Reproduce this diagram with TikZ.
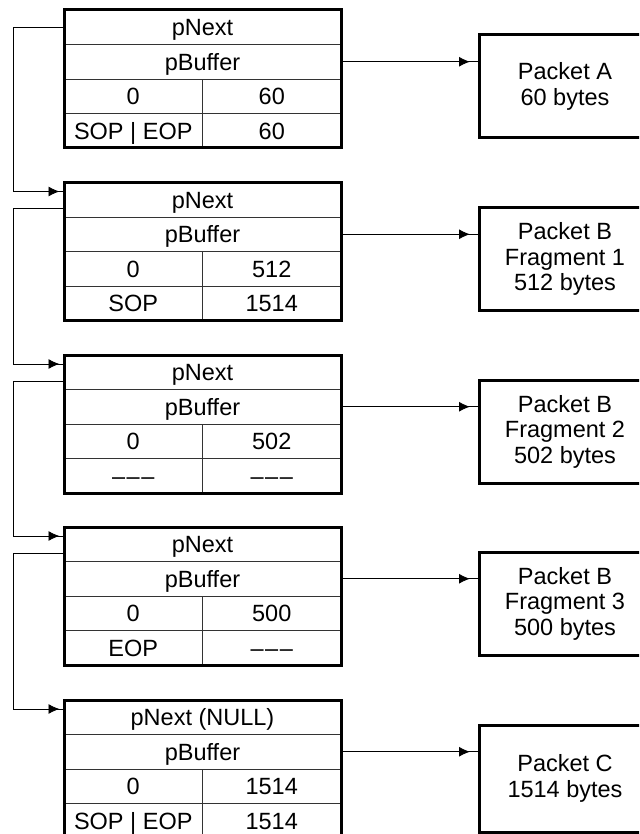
\documentclass[tikz,border=0pt]{standalone}
\usepackage{fontspec}
\setmainfont{Liberation Sans}
\usetikzlibrary{positioning,arrows.meta,decorations.markings}

\begin{document}
\begin{tikzpicture}[x=1pt,y=-1pt,
  font=\fontsize{23.5pt}{25.5pt}\selectfont,
  row/.style={draw=black!80,line width=0.9pt,minimum width=277pt,minimum height=34.5pt,
    inner sep=0pt,outer sep=0pt,text height=17pt,text depth=0pt},
  cell/.style={row,minimum width=138.5pt},
  frame/.style={line width=3pt},
  packet/.style={draw,line width=3pt,minimum width=171pt,minimum height=103pt,
    align=center,inner sep=0pt,outer sep=0pt,anchor=north west},
  ptr/.style={line width=0.9pt,decoration={markings,
    mark=at position -#1 with {\arrow{Latex[length=11pt,width=10pt]}}},postaction={decorate}}]
  \clip (0,0) rectangle (639,834);

  % descriptor 1
  \node[row,anchor=north west] (d1next) at (64,10) {pNext};
  \node[row,below=0pt of d1next] (d1buf) {pBuffer};
  \node[cell,below right=0pt of d1buf.south west] (d1a) {0};
  \node[cell,right=0pt of d1a] (d1b) {60};
  \node[cell,below=0pt of d1a] (d1c) {SOP | EOP};
  \node[cell,right=0pt of d1c] (d1d) {60};
  \draw[frame] (d1next.north west) rectangle (d1d.south east);

  % descriptor 2
  \node[row,anchor=north west] (d2next) at (64,182.5) {pNext};
  \node[row,below=0pt of d2next] (d2buf) {pBuffer};
  \node[cell,below right=0pt of d2buf.south west] (d2a) {0};
  \node[cell,right=0pt of d2a] (d2b) {512};
  \node[cell,below=0pt of d2a] (d2c) {SOP};
  \node[cell,right=0pt of d2c] (d2d) {1514};
  \draw[frame] (d2next.north west) rectangle (d2d.south east);

  % descriptor 3
  \node[row,anchor=north west] (d3next) at (64,355) {pNext};
  \node[row,below=0pt of d3next] (d3buf) {pBuffer};
  \node[cell,below right=0pt of d3buf.south west] (d3a) {0};
  \node[cell,right=0pt of d3a] (d3b) {502};
  \node[cell,below=0pt of d3a] (d3c) {\textendash\kern1.5pt\textendash\kern1.5pt\textendash};
  \node[cell,right=0pt of d3c] (d3d) {\textendash\kern1.5pt\textendash\kern1.5pt\textendash};
  \draw[frame] (d3next.north west) rectangle (d3d.south east);

  % descriptor 4
  \node[row,anchor=north west] (d4next) at (64,527) {pNext};
  \node[row,below=0pt of d4next] (d4buf) {pBuffer};
  \node[cell,below right=0pt of d4buf.south west] (d4a) {0};
  \node[cell,right=0pt of d4a] (d4b) {500};
  \node[cell,below=0pt of d4a] (d4c) {EOP};
  \node[cell,right=0pt of d4c] (d4d) {\textendash\kern1.5pt\textendash\kern1.5pt\textendash};
  \draw[frame] (d4next.north west) rectangle (d4d.south east);

  % descriptor 5 (last one)
  \node[row,anchor=north west] (d5next) at (64,700) {pNext (NULL)};
  \node[row,below=0pt of d5next] (d5buf) {pBuffer};
  \node[cell,below right=0pt of d5buf.south west] (d5a) {0};
  \node[cell,right=0pt of d5a] (d5b) {1514};
  \node[cell,below=0pt of d5a] (d5c) {SOP | EOP};
  \node[cell,right=0pt of d5c] (d5d) {1514};
  \draw[frame] (d5next.north west) rectangle (d5d.south east);

  % packet buffers
  \node[packet] (p1) at (479.5,35) {Packet A\\60 bytes};
  \node[packet] (p2) at (479.5,207.5) {Packet B\\Fragment 1\\512 bytes};
  \node[packet] (p3) at (479.5,380) {Packet B\\Fragment 2\\502 bytes};
  \node[packet] (p4) at (479.5,552) {Packet B\\Fragment 3\\500 bytes};
  \node[packet,minimum height=107pt] (p5) at (479.5,725) {Packet C\\1514 bytes};

  \draw[ptr=9.5pt] (d1buf.east) -- (d1buf.east -| p1.west);
  \draw[ptr=9.5pt] (d2buf.east) -- (d2buf.east -| p2.west);
  \draw[ptr=9.5pt] (d3buf.east) -- (d3buf.east -| p3.west);
  \draw[ptr=9.5pt] (d4buf.east) -- (d4buf.east -| p4.west);
  \draw[ptr=9.5pt] (d5buf.east) -- (d5buf.east -| p5.west);

  % next pointers
  \coordinate (o1) at (d1next.west);
  \coordinate (o2) at ([yshift=-8.75pt]d2next.west);
  \coordinate (o3) at ([yshift=-8.75pt]d3next.west);
  \coordinate (o4) at ([yshift=-8.75pt]d4next.west);
  \coordinate (i2) at ([yshift=8.25pt]d2next.west);
  \coordinate (i3) at ([yshift=8.25pt]d3next.west);
  \coordinate (i4) at ([yshift=8.25pt]d4next.west);
  \coordinate (i5) at ([yshift=8.25pt]d5next.west);
  \draw[ptr=4.5pt] (o1) -- ++(-50.7,0) |- (i2);
  \draw[ptr=4.5pt] (o2) -- ++(-50.7,0) |- (i3);
  \draw[ptr=4.5pt] (o3) -- ++(-50.7,0) |- (i4);
  \draw[ptr=4.5pt] (o4) -- ++(-50.7,0) |- (i5);
\end{tikzpicture}
\end{document}
